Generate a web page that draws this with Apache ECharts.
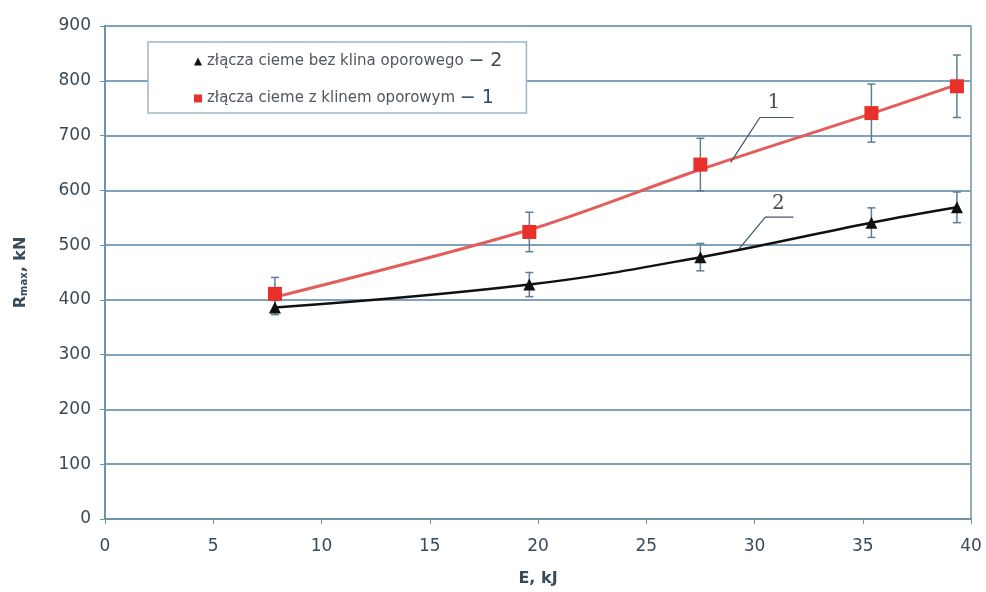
<!DOCTYPE html>
<html><head><meta charset="utf-8">
<script src="https://cdn.jsdelivr.net/npm/echarts@6/dist/echarts.min.js"></script>
<style>html,body{margin:0;padding:0;background:#fff}#c{width:986px;height:592px}</style>
</head><body><div id="c"></div>
<script>
// Data
const energy = [7.85, 19.6, 27.5, 35.4, 39.35];
const withWedge = [411, 524, 647, 741, 790];        // series 1 (red)
const withWedgeErr = [30, 36, 48, 53, 57];
const noWedge = [386, 428, 478, 541, 569];         // series 2 (black)
const noWedgeErr = [13, 22, 25, 27, 28];
// trend line 1
const trend1 = [[7.85, 405], [19.6, 528], [27.5, 638], [35.4, 740], [39.35, 793]];
const xTicks = [0, 5, 10, 15, 20, 25, 30, 35, 40];
const yTicks = [0, 100, 200, 300, 400, 500, 600, 700, 800, 900];
const name1 = 'złącza cieme z klinem oporowym';
const name2 = 'złącza cieme bez klina oporowego';
const suffix = { [name1]: '\u2212 1', [name2]: '\u2212 2' };
// annotation leader lines (data coords)
const leader1 = [[28.9, 651], [30.25, 733], [31.8, 733]];
const leader2 = [[29.2, 489], [30.5, 551], [31.8, 551]];
const label1 = [30.9, 760];
const label2 = [31.1, 576];

const axisColor = '#6f93ad';
const txtColor = '#3a4a58';
const font = 'DejaVu Sans, Liberation Sans, Arial';

function errSeries(vals, errs, color) {
  return {
    type: 'custom', silent: true, z: 3,
    data: energy.map((x, i) => [x, vals[i] - errs[i], vals[i] + errs[i]]),
    renderItem: function (params, api) {
      const lo = api.coord([api.value(0), api.value(1)]);
      const hi = api.coord([api.value(0), api.value(2)]);
      const w = 4;
      const st = { stroke: color, lineWidth: 1.5 };
      return { type: 'group', children: [
        { type: 'line', shape: { x1: lo[0], y1: lo[1], x2: hi[0], y2: hi[1] }, style: st },
        { type: 'line', shape: { x1: lo[0] - w, y1: lo[1], x2: lo[0] + w, y2: lo[1] }, style: st },
        { type: 'line', shape: { x1: hi[0] - w, y1: hi[1], x2: hi[0] + w, y2: hi[1] }, style: st }
      ]};
    }
  };
}

const chart = echarts.init(document.getElementById('c'));
chart.setOption({
  backgroundColor: '#fff',
  animation: false,
  grid: { left: 105, right: 15, top: 26, bottom: 71, show: true, borderColor: axisColor, borderWidth: 1.5 },
  legend: {
    orient: 'vertical', left: 148, top: 42,
    backgroundColor: '#fff', borderColor: '#9fb6c8', borderWidth: 1.5,
    padding: [10, 24, 5, 46], itemGap: 18, itemWidth: 8, itemHeight: 8,
    formatter: n => n + ' {s|' + suffix[n] + '}',
    textStyle: { fontFamily: font, fontSize: 15, color: '#50565c',
      rich: { s: { fontFamily: font, fontSize: 19, color: '#3a4a58' } } },
    data: [{ name: name2, icon: 'triangle' }, { name: name1, icon: 'rect' }]
  },
  xAxis: {
    type: 'value', min: 0, max: 40, interval: 5,
    name: 'E, kJ', nameLocation: 'middle', nameGap: 52,
    nameTextStyle: { fontFamily: font, fontSize: 16, fontWeight: 'bold', color: txtColor },
    axisLine: { lineStyle: { color: axisColor, width: 2 } },
    axisTick: { show: true, length: 5, lineStyle: { color: axisColor } },
    axisLabel: { fontFamily: font, fontSize: 17, color: txtColor, margin: 19,
      formatter: v => xTicks.includes(v) ? String(v) : '' },
    splitLine: { show: false }
  },
  yAxis: {
    type: 'value', min: 0, max: 900, interval: 100,
    name: '{a|R}{b|max}{a|, kN}', nameLocation: 'middle', nameGap: 76,
    nameTextStyle: { rich: {
      a: { fontFamily: font, fontSize: 16, fontWeight: 'bold', color: txtColor },
      b: { fontFamily: font, fontSize: 10, fontWeight: 'bold', color: txtColor, verticalAlign: 'bottom', padding: [6, 0, 0, 0] }
    } },
    axisLine: { show: true, lineStyle: { color: axisColor, width: 2 } },
    axisTick: { show: true, length: 5, lineStyle: { color: axisColor } },
    axisLabel: { fontFamily: font, fontSize: 17, color: txtColor, margin: 14,
      formatter: v => yTicks.includes(v) ? String(v) : '' },
    splitLine: { show: true, lineStyle: { color: '#7fa3bd', width: 2 } }
  },
  series: [
    errSeries(withWedge, withWedgeErr, '#5f7e92'),
    errSeries(noWedge, noWedgeErr, '#5f7e92'),
    {
      type: 'line', silent: true, z: 3, smooth: 0.3, data: trend1, symbol: 'none',
      lineStyle: { color: '#e35d5a', width: 3 }
    },
    {
      name: name1, type: 'scatter', z: 4,
      data: energy.map((x, i) => [x, withWedge[i]]),
      symbol: 'rect', symbolSize: 14,
      itemStyle: { color: '#e8302a', opacity: 1 }
    },
    {
      name: name2, type: 'line', z: 5, smooth: 0.4,
      data: energy.map((x, i) => [x, noWedge[i]]),
      symbol: 'triangle', symbolSize: 12,
      itemStyle: { color: '#111' },
      lineStyle: { color: '#111', width: 2.5 }
    },
    {
      type: 'line', silent: true, data: leader1, symbol: 'none',
      lineStyle: { color: '#3d5566', width: 1.2 }
    },
    {
      type: 'line', silent: true, data: leader2, symbol: 'none',
      lineStyle: { color: '#3d5566', width: 1.2 }
    },
    {
      type: 'scatter', silent: true, symbolSize: 0,
      data: [{ value: label1, label: { formatter: '1' } }, { value: label2, label: { formatter: '2' } }],
      label: { show: true, position: 'inside', fontFamily: 'DejaVu Serif, Liberation Serif, serif', fontSize: 20, color: '#222' }
    }
  ]
});
</script></body></html>
